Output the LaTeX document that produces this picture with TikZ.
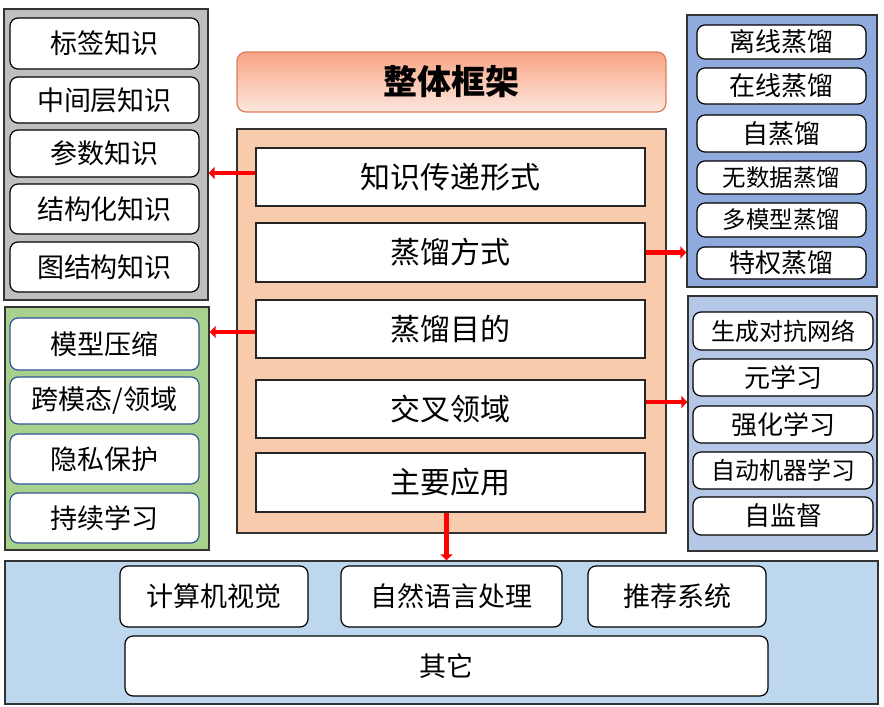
\documentclass[tikz,border=0pt]{standalone}
\usepackage{fontspec}
\setmainfont{Noto Sans CJK SC}
\usetikzlibrary{arrows.meta}
\definecolor{grayfill}{HTML}{BFBFBF}
\definecolor{greenfill}{HTML}{A9D18E}
\definecolor{bluedark}{HTML}{8FAADC}
\definecolor{bluemid}{HTML}{B4C7E7}
\definecolor{bluelight}{HTML}{BDD7EE}
\definecolor{peach}{HTML}{F8CBAD}
\definecolor{titletop}{HTML}{F9A585}
\definecolor{titlebot}{HTML}{FDE6DD}
\definecolor{titleline}{HTML}{E07A5A}
\definecolor{greenline}{HTML}{2F5597}
\definecolor{arrred}{HTML}{FF0000}
\tikzset{
  panel/.style={draw=black!80, line width=1.3pt, inner sep=0pt, anchor=north west},
  rbox/.style={draw=black, fill=white, rounded corners=8pt, line width=1.2pt, inner sep=0pt,
    font=\fontsize{27}{30}\selectfont},
  sbox/.style={draw=black!85, fill=white, line width=1.2pt, inner sep=0pt,
    font=\fontsize{30}{33}\selectfont},
  arr/.style={draw=arrred, line width=4.8pt, -{Triangle[length=6pt,width=12pt]}},
}
\newcommand{\pbox}[6]{% name, x1, y1, x2, y2, style
  \node[#6, minimum width={(#4-#2)*1pt}, minimum height={(#5-#3)*1pt}] (#1) at ({(#2+#4)/2},{(#3+#5)/2})}
\begin{document}
\begin{tikzpicture}[x=1pt,y=-1pt]
\useasboundingbox (0,0) rectangle (884,707);
% panels
\pbox{Lpanel}{4}{9}{208}{300}{panel, fill=grayfill, anchor=center} {};
\pbox{Gpanel}{5}{307}{209}{550}{panel, fill=greenfill, anchor=center} {};
\pbox{Rpanel}{687}{15}{877}{287}{panel, fill=bluedark, anchor=center} {};
\pbox{Spanel}{688}{296}{877}{551}{panel, fill=bluemid, anchor=center} {};
\pbox{Cpanel}{237}{129}{666}{533}{panel, fill=peach, anchor=center} {};
\pbox{Bpanel}{5}{561}{878}{704}{panel, fill=bluelight, anchor=center} {};
% title
\pbox{title}{237}{52}{666}{112}{draw=titleline, line width=1.2pt, rounded corners=9pt, top color=titletop, bottom color=titlebot, inner sep=0pt, font=\fontsize{34}{36}\selectfont\bfseries} {整体框架};
% left gray
\pbox{L1}{10}{18}{199}{69}{rbox} {标签知识};
\pbox{L2}{10}{77}{199}{123}{rbox} {中间层知识};
\pbox{L3}{10}{130}{199}{177}{rbox} {参数知识};
\pbox{L4}{10}{184}{199}{234}{rbox} {结构化知识};
\pbox{L5}{10}{242}{199}{292}{rbox} {图结构知识};
% left green
\pbox{G1}{10}{318}{199}{370}{rbox, draw=greenline} {模型压缩};
\pbox{G2}{10}{377}{199}{424}{rbox, draw=greenline} {跨模态/领域};
\pbox{G3}{10}{434}{199}{484}{rbox, draw=greenline} {隐私保护};
\pbox{G4}{10}{493}{199}{543}{rbox, draw=greenline} {持续学习};
% right top
\pbox{R1}{697}{25}{866}{59}{rbox, font=\fontsize{26}{28}\selectfont} {离线蒸馏};
\pbox{R2}{697}{68}{866}{104}{rbox, font=\fontsize{26}{28}\selectfont} {在线蒸馏};
\pbox{R3}{697}{115}{866}{152}{rbox, font=\fontsize{26}{28}\selectfont} {自蒸馏};
\pbox{R4}{697}{161}{866}{194}{rbox, font=\fontsize{23.5}{26}\selectfont} {无数据蒸馏};
\pbox{R5}{697}{203}{866}{237}{rbox, font=\fontsize{23.5}{26}\selectfont} {多模型蒸馏};
\pbox{R6}{697}{247}{866}{279}{rbox, font=\fontsize{26}{28}\selectfont} {特权蒸馏};
% right bottom
\pbox{S1}{693}{312}{873}{350}{rbox, font=\fontsize{24}{26}\selectfont} {生成对抗网络};
\pbox{S2}{693}{359}{873}{396}{rbox, font=\fontsize{26}{28}\selectfont} {元学习};
\pbox{S3}{693}{406}{873}{443}{rbox, font=\fontsize{26}{28}\selectfont} {强化学习};
\pbox{S4}{693}{452}{873}{489}{rbox, font=\fontsize{24}{26}\selectfont} {自动机器学习};
\pbox{S5}{693}{497}{873}{535}{rbox, font=\fontsize{26}{28}\selectfont} {自监督};
% center
\pbox{C1}{256}{148}{645}{206}{sbox} {知识传递形式};
\pbox{C2}{256}{223}{645}{282}{sbox} {蒸馏方式};
\pbox{C3}{256}{300}{645}{358}{sbox} {蒸馏目的};
\pbox{C4}{256}{380}{645}{438}{sbox} {交叉领域};
\pbox{C5}{256}{453}{645}{512}{sbox} {主要应用};
% bottom
\pbox{V1}{120}{566}{308}{627}{rbox} {计算机视觉};
\pbox{V2}{341}{566}{562}{627}{rbox} {自然语言处理};
\pbox{V3}{588}{566}{766}{627}{rbox} {推荐系统};
\pbox{V4}{125}{636}{768}{696}{rbox} {其它};
% arrows
\draw[arr] ([yshift=4pt]C1.west) -- ([yshift=4pt]C1.west -| Lpanel.east);
\draw[arr] ([yshift=-3pt]C3.west) -- ([yshift=-3pt]C3.west -| Gpanel.east);
\draw[arr] (C2.east) -- (C2.east -| Rpanel.west);
\draw[arr] ([yshift=7pt]C4.east) -- ([yshift=7pt]C4.east -| Spanel.west);
\draw[arr] ([xshift=-4pt]C5.south) -- ([xshift=-4pt]C5.south |- Bpanel.north);
\end{tikzpicture}
\end{document}
